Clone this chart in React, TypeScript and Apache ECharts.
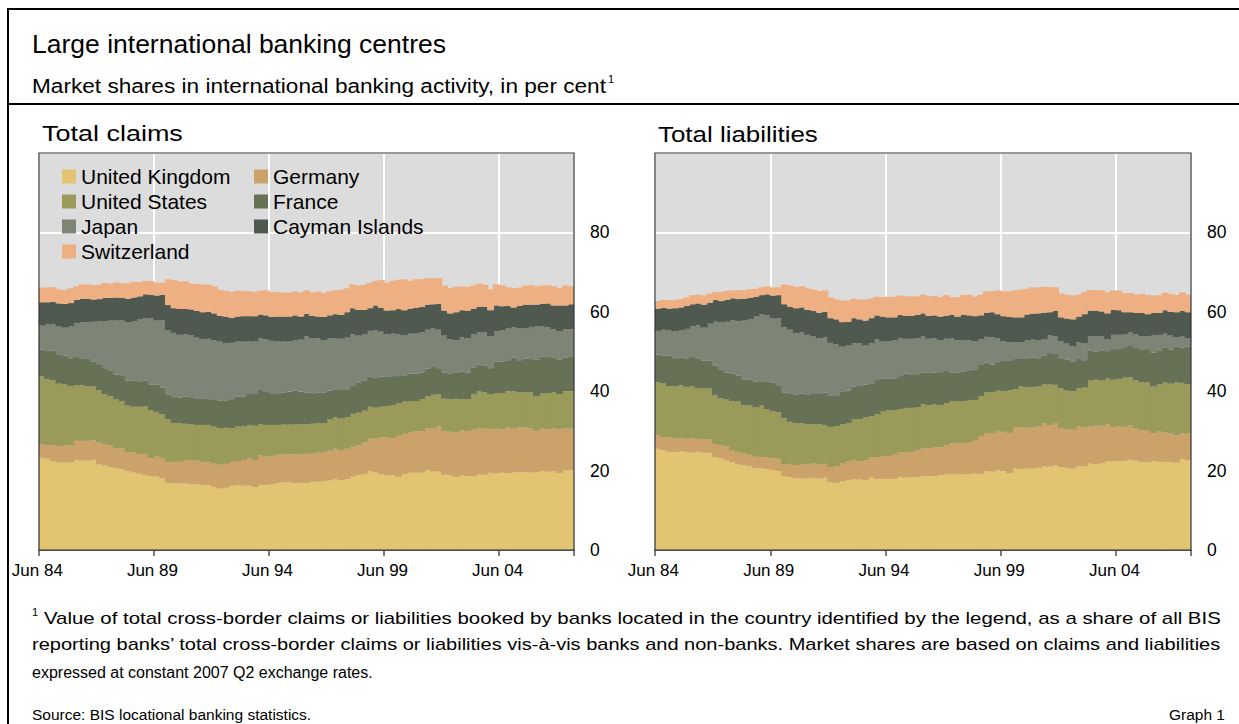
import React, { useEffect, useRef } from "react";
import * as echarts from "echarts";

// ---------- data (per cent market shares, quarterly, Jun 84 .. Jun 07) ----------
const TICK_LABELS = ["Jun 84", "Jun 89", "Jun 94", "Jun 99", "Jun 04"];
const Y_TICKS = [0, 20, 40, 60, 80];
const COUNTRIES = ["United Kingdom", "Germany", "United States", "France", "Japan", "Cayman Islands", "Switzerland"];
const COLORS = ["#e3c472", "#cba36a", "#9a9a5a", "#667156", "#7e8476", "#4f5950", "#eeb083"];
const PANEL_TITLES = ["Total claims", "Total liabilities"];

const UK_CLAIMS = [
  23.2, 23.0, 22.4, 22.1, 22.1, 22.1, 22.6, 22.6, 22.5, 22.7,
  21.6, 21.3, 20.9, 20.6, 20.4, 19.8, 19.5, 19.2, 18.9, 18.6,
  18.5, 18.0, 16.9, 16.8, 16.8, 16.8, 16.6, 16.6, 16.4, 16.4,
  15.9, 15.5, 15.7, 16.2, 16.4, 16.2, 16.2, 15.9, 16.4, 16.4,
  16.6, 16.9, 17.1, 17.1, 16.9, 16.9, 16.9, 17.2, 17.2, 17.4,
  17.5, 17.9, 17.6, 17.9, 18.5, 18.9, 19.1, 19.9, 19.5, 19.1,
  18.8, 18.9, 18.4, 19.1, 19.5, 19.5, 19.5, 20.0, 19.7, 19.9,
  19.0, 18.9, 18.4, 18.9, 18.6, 18.6, 19.0, 19.0, 19.5, 19.3,
  19.5, 19.4, 19.5, 19.6, 19.6, 19.5, 19.6, 19.9, 19.7, 19.9,
  19.4, 20.0, 20.1,
];
const GERMANY_CLAIMS = [
  3.4, 3.4, 4.0, 4.0, 4.3, 4.3, 4.9, 4.9, 5.0, 4.9,
  5.5, 5.4, 5.5, 5.1, 5.2, 4.9, 5.1, 4.9, 5.3, 4.5,
  5.1, 5.2, 5.3, 5.4, 5.4, 5.9, 6.0, 5.9, 5.8, 5.8,
  5.9, 6.0, 6.0, 6.0, 6.0, 6.5, 7.0, 6.8, 7.5, 7.1,
  7.1, 7.1, 7.0, 7.0, 7.2, 7.3, 7.3, 7.1, 7.3, 7.3,
  7.5, 7.6, 7.6, 7.6, 7.5, 7.5, 8.0, 8.1, 8.7, 9.3,
  9.6, 9.3, 10.4, 10.2, 10.2, 10.4, 10.4, 10.6, 10.9, 11.2,
  11.0, 10.9, 11.2, 11.2, 11.4, 11.7, 11.6, 11.6, 11.0, 11.3,
  10.9, 11.5, 11.1, 11.3, 11.3, 11.1, 10.4, 10.7, 10.7, 10.7,
  11.1, 10.6, 10.5,
];
const US_CLAIMS = [
  17.1, 16.6, 16.4, 15.8, 15.3, 14.9, 14.0, 14.0, 13.8, 13.6,
  13.2, 12.6, 12.3, 12.2, 11.9, 11.7, 11.5, 12.0, 12.0, 12.1,
  11.2, 11.0, 10.8, 9.8, 9.8, 9.1, 9.1, 9.0, 9.3, 9.3,
  9.3, 9.2, 9.1, 8.5, 8.7, 8.4, 8.3, 8.6, 7.8, 8.0,
  7.7, 7.5, 7.5, 7.5, 7.5, 7.5, 7.5, 7.5, 7.5, 7.3,
  7.9, 8.0, 7.9, 8.0, 8.3, 8.2, 8.0, 8.1, 7.7, 7.7,
  7.9, 8.3, 8.2, 8.1, 7.8, 7.6, 8.1, 8.1, 8.5, 8.1,
  8.1, 8.2, 8.5, 7.9, 8.0, 8.9, 9.3, 9.1, 8.8, 8.9,
  9.1, 9.1, 9.3, 8.8, 8.8, 9.1, 8.7, 8.8, 9.1, 9.2,
  8.8, 9.4, 9.4,
];
const FRANCE_CLAIMS = [
  6.8, 7.1, 7.4, 7.4, 7.3, 7.0, 7.3, 6.8, 6.8, 6.2,
  6.5, 6.5, 6.4, 6.3, 6.5, 6.3, 6.5, 6.4, 6.4, 6.5,
  6.9, 6.7, 6.2, 6.5, 6.4, 6.8, 6.8, 6.7, 6.7, 6.5,
  6.7, 6.9, 6.9, 7.3, 7.5, 7.6, 7.8, 8.0, 8.8, 8.3,
  8.1, 7.8, 8.0, 8.3, 8.5, 8.2, 7.9, 7.7, 7.6, 7.7,
  7.2, 7.0, 7.4, 7.0, 7.0, 7.5, 7.5, 7.5, 7.4, 7.6,
  7.3, 7.3, 6.8, 6.6, 6.9, 6.9, 6.7, 7.0, 7.0, 6.6,
  6.6, 6.5, 6.5, 7.0, 6.7, 6.8, 6.8, 6.7, 6.5, 8.0,
  8.0, 7.8, 8.6, 8.1, 8.5, 8.4, 9.3, 9.3, 9.1, 8.6,
  8.7, 8.5, 8.8,
];
const JAPAN_CLAIMS = [
  6.0, 6.7, 6.7, 7.0, 7.0, 8.1, 8.3, 9.1, 9.3, 10.1,
  10.8, 11.9, 12.7, 13.6, 13.8, 14.7, 15.0, 15.7, 15.8, 16.6,
  16.1, 16.9, 16.1, 16.2, 15.8, 15.8, 15.6, 15.3, 14.9, 15.2,
  15.1, 14.9, 14.4, 14.2, 13.9, 13.8, 13.2, 13.2, 12.8, 13.3,
  13.2, 13.2, 12.9, 12.6, 12.7, 13.1, 14.2, 13.8, 13.7, 13.2,
  13.2, 12.9, 12.7, 13.0, 13.0, 11.9, 11.7, 11.6, 12.0, 11.3,
  10.7, 10.7, 10.6, 10.1, 10.1, 10.1, 10.1, 9.8, 9.8, 9.7,
  9.3, 8.6, 8.3, 8.6, 8.6, 8.3, 8.1, 8.4, 8.1, 7.6,
  7.9, 8.0, 7.6, 8.1, 7.6, 8.1, 8.3, 7.6, 7.5, 7.2,
  7.1, 7.1, 6.8,
];
const CAYMAN_CLAIMS = [
  5.9, 5.6, 5.6, 5.8, 6.0, 5.8, 5.9, 5.9, 5.9, 5.6,
  5.6, 5.8, 5.7, 5.8, 5.7, 5.9, 6.0, 5.7, 6.0, 6.0,
  6.3, 6.5, 6.4, 6.2, 6.5, 6.3, 6.5, 6.7, 6.8, 6.8,
  6.7, 6.5, 6.7, 6.3, 6.3, 6.4, 6.4, 6.4, 6.0, 6.0,
  6.0, 6.3, 6.3, 6.3, 6.3, 5.8, 5.7, 5.7, 5.5, 5.8,
  5.8, 6.0, 6.0, 6.4, 6.6, 6.5, 6.2, 5.7, 6.3, 6.0,
  6.0, 5.9, 6.3, 6.3, 6.3, 6.5, 6.4, 6.3, 6.0, 6.5,
  6.3, 6.5, 7.0, 6.8, 7.0, 6.5, 6.5, 6.5, 6.5, 6.5,
  6.0, 5.7, 5.0, 5.6, 6.0, 5.6, 5.5, 5.7, 6.0, 6.0,
  6.5, 6.0, 6.3,
];
const SWISS_CLAIMS = [
  3.7, 3.7, 3.7, 3.5, 3.5, 3.7, 3.4, 3.6, 3.6, 3.6,
  3.6, 3.8, 3.6, 3.8, 3.7, 3.9, 3.9, 3.6, 3.4, 3.4,
  3.2, 3.0, 6.5, 7.1, 6.9, 7.0, 6.5, 6.8, 7.0, 6.8,
  6.8, 6.5, 6.5, 6.5, 6.5, 6.3, 6.3, 6.1, 6.0, 6.3,
  6.3, 6.2, 6.0, 6.0, 6.0, 6.1, 5.9, 5.9, 6.3, 6.0,
  6.1, 6.0, 6.3, 6.0, 6.0, 6.1, 6.3, 6.4, 6.2, 7.0,
  7.0, 7.4, 7.4, 7.8, 7.0, 7.2, 7.0, 6.7, 6.5, 6.5,
  6.3, 6.4, 6.4, 6.0, 6.0, 5.8, 5.8, 5.5, 5.3, 5.3,
  5.3, 4.7, 4.9, 4.6, 4.8, 4.9, 4.6, 4.6, 4.6, 4.8,
  4.4, 5.0, 4.5,
];

const UK_LIAB = [
  25.5, 25.2, 24.7, 24.7, 24.9, 24.7, 24.5, 24.7, 24.5, 24.5,
  23.4, 23.1, 22.6, 22.1, 21.6, 21.4, 21.1, 20.6, 20.6, 20.4,
  20.1, 19.9, 18.6, 18.4, 18.1, 18.0, 18.1, 18.2, 18.0, 18.3,
  17.1, 16.9, 17.3, 17.6, 17.8, 17.8, 17.6, 18.4, 17.9, 17.9,
  17.9, 17.9, 18.4, 18.2, 18.4, 18.4, 18.6, 18.6, 18.6, 18.9,
  19.0, 19.2, 19.0, 19.1, 19.1, 19.4, 19.1, 19.9, 19.7, 20.0,
  19.8, 19.4, 20.5, 20.4, 20.5, 20.5, 20.7, 21.1, 21.0, 21.4,
  20.9, 20.7, 20.5, 21.1, 21.1, 21.8, 21.6, 21.9, 22.4, 22.4,
  22.4, 22.5, 22.7, 22.5, 22.2, 22.1, 22.4, 22.2, 22.2, 22.2,
  22.0, 22.9, 22.6,
];
const GERMANY_LIAB = [
  3.5, 3.2, 3.7, 3.4, 3.3, 3.3, 3.7, 3.3, 3.4, 3.4,
  3.3, 3.3, 3.5, 2.9, 3.0, 2.9, 2.9, 2.9, 2.8, 3.0,
  3.0, 3.1, 3.0, 3.3, 3.3, 3.6, 3.5, 3.7, 3.6, 3.4,
  3.8, 4.2, 4.6, 4.8, 4.9, 4.6, 5.0, 5.0, 5.5, 5.7,
  5.6, 6.1, 6.2, 6.5, 6.3, 6.8, 7.0, 7.0, 7.3, 7.0,
  7.4, 7.7, 7.9, 7.8, 8.1, 8.3, 9.6, 9.6, 9.6, 10.0,
  10.0, 10.1, 10.3, 10.6, 10.3, 10.5, 10.4, 10.8, 10.5, 10.6,
  9.7, 9.7, 9.8, 10.1, 9.8, 9.3, 9.8, 9.4, 9.3, 8.6,
  8.8, 8.5, 8.7, 8.1, 8.0, 7.9, 7.0, 7.7, 7.4, 7.2,
  7.0, 6.5, 6.7,
];
const US_LIAB = [
  13.2, 13.6, 12.9, 13.2, 13.3, 13.1, 13.1, 12.8, 12.8, 12.8,
  12.2, 11.8, 11.8, 12.5, 12.8, 12.2, 12.4, 12.4, 13.0, 12.1,
  11.8, 11.7, 11.6, 10.6, 10.6, 10.3, 10.1, 9.8, 10.1, 9.8,
  10.1, 10.1, 9.8, 9.6, 10.3, 10.6, 10.8, 10.3, 10.8, 11.3,
  11.7, 11.2, 10.9, 11.1, 11.1, 10.8, 11.1, 10.9, 10.8, 10.6,
  10.6, 10.6, 10.6, 10.6, 10.6, 10.1, 10.1, 10.2, 10.5, 10.1,
  10.2, 10.8, 9.7, 10.2, 10.2, 10.1, 10.1, 9.8, 10.2, 9.6,
  10.1, 9.9, 9.7, 9.6, 10.0, 11.6, 11.5, 11.4, 11.5, 11.9,
  11.9, 12.4, 12.1, 12.1, 12.1, 12.2, 11.8, 11.8, 12.6, 12.5,
  13.2, 12.7, 12.4,
];
const FRANCE_LIAB = [
  7.0, 7.0, 7.7, 7.0, 7.0, 7.2, 7.3, 7.5, 7.0, 7.0,
  7.5, 7.3, 6.8, 6.9, 6.5, 6.5, 6.5, 6.5, 6.1, 7.0,
  7.3, 6.8, 6.5, 7.0, 7.1, 7.5, 7.5, 7.8, 7.6, 8.1,
  7.8, 7.8, 8.1, 8.1, 8.1, 8.3, 8.3, 8.1, 8.6, 8.2,
  8.0, 8.0, 8.3, 8.6, 8.3, 8.3, 8.0, 8.1, 8.0, 8.3,
  8.1, 7.2, 7.2, 7.5, 7.5, 7.7, 7.8, 7.5, 6.9, 7.3,
  7.8, 7.3, 7.6, 7.1, 7.3, 7.3, 7.1, 7.3, 7.9, 7.8,
  7.6, 7.7, 7.5, 7.5, 6.9, 7.6, 7.1, 7.6, 6.9, 7.9,
  7.5, 7.7, 8.1, 8.2, 8.1, 8.4, 8.5, 8.6, 8.7, 8.6,
  9.1, 8.9, 9.5,
];
const JAPAN_LIAB = [
  6.0, 6.5, 6.3, 6.8, 6.8, 7.4, 7.8, 8.3, 8.3, 9.3,
  11.1, 11.8, 12.8, 13.5, 13.8, 14.8, 15.3, 16.4, 16.9, 16.6,
  16.1, 16.9, 16.4, 16.2, 15.5, 15.4, 15.0, 14.3, 14.0, 14.0,
  13.4, 12.8, 11.4, 11.4, 11.0, 10.8, 9.8, 10.3, 10.3, 9.4,
  9.4, 9.6, 9.6, 8.8, 9.1, 9.1, 9.1, 8.6, 8.6, 8.1,
  8.1, 8.6, 8.1, 7.8, 7.5, 7.1, 6.5, 6.5, 6.9, 6.0,
  4.8, 4.8, 4.2, 4.0, 4.5, 4.6, 4.6, 4.0, 4.5, 4.5,
  4.3, 4.0, 3.8, 4.0, 4.3, 3.5, 3.8, 3.5, 3.0, 3.4,
  3.6, 3.3, 3.3, 3.4, 3.5, 3.3, 4.4, 3.9, 3.6, 3.5,
  2.3, 2.9, 2.2,
];
const CAYMAN_LIAB = [
  5.6, 5.5, 5.5, 5.8, 5.8, 5.8, 5.5, 5.5, 5.8, 5.3,
  5.5, 5.4, 5.5, 5.5, 5.5, 5.5, 5.3, 5.0, 4.8, 5.3,
  5.8, 5.8, 5.8, 5.8, 6.3, 6.3, 6.3, 6.5, 6.5, 6.4,
  6.2, 6.3, 6.2, 6.0, 6.3, 6.0, 6.3, 6.3, 6.0, 6.3,
  6.0, 5.8, 5.8, 5.8, 5.8, 5.8, 5.8, 5.8, 5.8, 5.9,
  5.8, 6.0, 6.0, 6.5, 6.3, 6.3, 6.0, 6.0, 6.3, 6.0,
  6.3, 6.3, 6.3, 6.3, 6.5, 6.5, 6.7, 6.8, 5.8, 6.3,
  6.0, 6.3, 6.8, 6.5, 7.3, 6.5, 6.5, 6.3, 6.5, 6.3,
  6.2, 5.5, 5.0, 5.5, 5.8, 5.5, 5.6, 5.5, 5.9, 6.0,
  6.3, 6.3, 6.5,
];
const SWISS_LIAB = [
  1.9, 2.0, 2.1, 2.1, 2.1, 2.1, 2.3, 2.2, 2.3, 2.3,
  2.0, 2.3, 2.3, 2.0, 2.3, 2.1, 2.2, 2.0, 2.0, 2.0,
  2.0, 2.0, 5.0, 5.3, 5.4, 5.3, 5.4, 5.3, 5.4, 5.4,
  5.2, 5.0, 5.4, 5.4, 4.9, 5.0, 5.3, 4.9, 4.7, 4.9,
  5.2, 5.2, 4.9, 4.9, 4.9, 4.7, 4.7, 4.9, 4.9, 4.9,
  5.2, 4.4, 4.9, 4.9, 5.2, 4.9, 5.2, 5.5, 5.3, 6.0,
  6.3, 6.4, 6.8, 7.0, 6.5, 6.7, 6.5, 6.5, 6.3, 6.0,
  6.0, 6.0, 6.0, 5.5, 5.5, 5.2, 5.2, 5.3, 5.3, 4.9,
  4.9, 4.8, 4.8, 4.5, 4.8, 4.8, 4.4, 4.5, 4.4, 4.5,
  4.3, 4.7, 4.4,
];

const CLAIMS = [UK_CLAIMS, GERMANY_CLAIMS, US_CLAIMS, FRANCE_CLAIMS, JAPAN_CLAIMS, CAYMAN_CLAIMS, SWISS_CLAIMS];
const LIABILITIES = [UK_LIAB, GERMANY_LIAB, US_LIAB, FRANCE_LIAB, JAPAN_LIAB, CAYMAN_LIAB, SWISS_LIAB];

const QUARTER_MONTHS = ["Jun", "Sep", "Dec", "Mar"];
function quarterLabels(startYear: number, count: number): string[] {
  const out: string[] = [];
  for (let i = 0; i < count; i++) {
    const y = startYear + Math.floor((i + 1) / 4);
    out.push(`${QUARTER_MONTHS[i % 4]} ${String(y % 100).padStart(2, "0")}`);
  }
  return out;
}
const CATEGORIES = quarterLabels(1984, UK_CLAIMS.length);

const TITLE = "Large international banking centres";
const SUBTITLE = "Market shares in international banking activity, in per cent";
const FOOTNOTE = [
  "Value of total cross-border claims or liabilities booked by banks located in the country identified by the legend, as a share of all BIS",
  "reporting banks\u2019 total cross-border claims or liabilities vis-\u00e0-vis banks and non-banks. Market shares are based on claims and liabilities",
  "expressed at constant 2007 Q2 exchange rates.",
];
const SOURCE = "Source: BIS locational banking statistics.";
const GRAPH_NO = "Graph 1";

// ---------- layout ----------
const FONT = '"Liberation Sans", Arial, Helvetica, sans-serif';
const GRIDS = [
  { left: 39, top: 153, width: 535, height: 397 },
  { left: 655, top: 153, width: 536, height: 397 },
];

function textWidth(text: string, size: number): number {
  const ctx = document.createElement("canvas").getContext("2d");
  if (!ctx) return text.length * size * 0.5;
  ctx.font = `${size}px ${FONT}`;
  return ctx.measureText(text).width;
}

function txt(x: number, y: number, text: string, size: number, extra: any = {}, scaleX = 1) {
  return {
    type: "text",
    x,
    y,
    scaleX,
    originX: 0,
    originY: 0,
    silent: true,
    style: { text, fontSize: size, fontFamily: FONT, fill: "#000", align: "left", verticalAlign: "middle", ...extra },
  };
}

// text widened so that it spans [x0, x1] (the original is justified)
function fitted(x0: number, x1: number, y: number, text: string, size: number) {
  return txt(x0, y, text, size, {}, (x1 - x0) / textWidth(text, size));
}

export default function App() {
  const ref = useRef<HTMLDivElement>(null);
  useEffect(() => {
    if (!ref.current) return;
    const chart = echarts.init(ref.current, undefined, { renderer: "svg" });
    const tickFilter = (_i: number, v: string) => TICK_LABELS.includes(v);

    const xAxis = GRIDS.map((_, p) => ({
      type: "category",
      gridIndex: p,
      data: CATEGORIES,
      boundaryGap: true,
      axisLine: { show: true, lineStyle: { color: "#333", width: 1.5 } },
      axisTick: { show: true, interval: tickFilter, length: 6, lineStyle: { color: "#555", width: 1.5 } },
      axisLabel: { interval: tickFilter, fontSize: 17, color: "#000", fontFamily: FONT, margin: 12, padding: [0, 9, 0, 0] },
      splitLine: { show: true, interval: tickFilter, lineStyle: { color: "#fff", width: 2 } },
    }));
    const yAxis = GRIDS.map((_, p) => ({
      type: "value",
      gridIndex: p,
      position: "right",
      min: 0,
      max: 100,
      interval: 20,
      axisLine: { show: false },
      axisTick: { show: false },
      axisLabel: {
        fontSize: 17.5,
        color: "#000",
        fontFamily: FONT,
        margin: 16,
        formatter: (v: number) => (Y_TICKS.includes(v) ? String(v) : ""),
      },
      splitLine: { show: true, lineStyle: { color: "#fff", width: 2 } },
    }));

    const series: any[] = [];
    [CLAIMS, LIABILITIES].forEach((panel, p) => {
      // bars slightly wider than a quarter so that neighbouring bars overlap (no seams)
      const bw = GRIDS[p].width / CATEGORIES.length + 1.2;
      panel.forEach((values, i) => {
        series.push({
          type: "bar",
          name: COUNTRIES[i],
          stack: "panel" + p,
          xAxisIndex: p,
          yAxisIndex: p,
          data: values,
          barWidth: bw,
          silent: true,
          itemStyle: { color: COLORS[i], borderWidth: 0 },
          emphasis: { disabled: true },
        });
      });
    });

    const legendBase = {
      orient: "vertical",
      top: 166,
      icon: "rect",
      itemWidth: 14,
      itemHeight: 14,
      itemGap: 4,
      padding: 0,
      selectedMode: false,
      textStyle: { fontSize: 21, lineHeight: 20, height: 20, color: "#000", fontFamily: FONT },
    };

    const SUB_END = 606;
    const graphic: any[] = [
      { type: "rect", silent: true, shape: { x: 8, y: 9, width: 1270, height: 780 }, style: { fill: "none", stroke: "#000", lineWidth: 2 } },
      { type: "line", silent: true, shape: { x1: 8, y1: 104, x2: 1239, y2: 104 }, style: { stroke: "#000", lineWidth: 2 } },
      txt(32, 44, TITLE, 26.5),
      fitted(32, SUB_END, 86, SUBTITLE, 19.5),
      txt(SUB_END + 2, 79, "1", 11),
      fitted(GRIDS[0].left + 3, 183, 134, PANEL_TITLES[0], 21.5),
      fitted(GRIDS[1].left + 3, 818, 134, PANEL_TITLES[1], 21.5),
      txt(32, 612, "1", 11),
      fitted(44, 1222, 618, FOOTNOTE[0], 16),
      fitted(32, 1222, 645, FOOTNOTE[1], 16),
      txt(32, 672, FOOTNOTE[2], 16),
      txt(32, 714, SOURCE, 15.5),
      txt(1225, 714, GRAPH_NO, 15.5, { align: "right" }),
    ];
    GRIDS.forEach((g) => {
      graphic.push({
        type: "rect",
        silent: true,
        z: 100,
        shape: { x: g.left, y: g.top, width: g.width, height: g.height },
        style: { fill: "none", stroke: "#333", lineWidth: 1.2 },
      });
    });

    chart.setOption({
      animation: false,
      grid: GRIDS.map((g) => ({ ...g, show: true, backgroundColor: "#dcdcdc", borderWidth: 0, containLabel: false })),
      xAxis,
      yAxis,
      legend: [
        { ...legendBase, left: 62, data: ["United Kingdom", "United States", "Japan", "Switzerland"] },
        { ...legendBase, left: 254, data: ["Germany", "France", "Cayman Islands"] },
      ],
      series,
      graphic,
    });
    return () => chart.dispose();
  }, []);
  return <div ref={ref} style={{ position: "fixed", left: 0, top: 0, width: 1239, height: 724, background: "#fff" }} />;
}
